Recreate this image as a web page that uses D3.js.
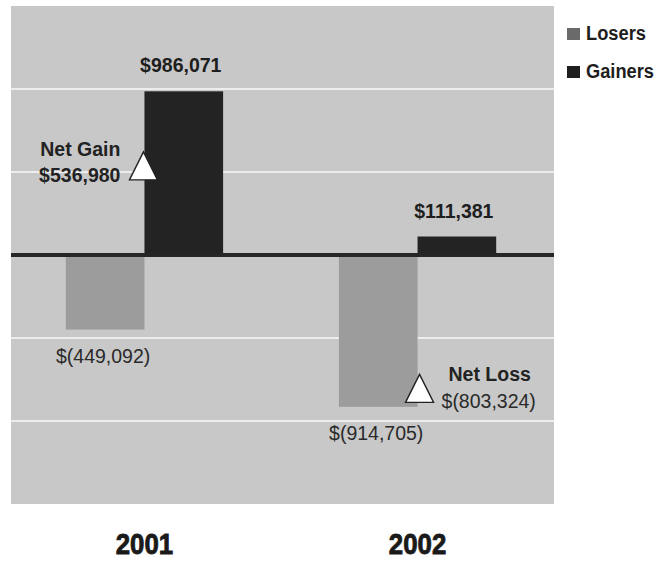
<!DOCTYPE html>
<html>
<head>
<meta charset="utf-8">
<script src="https://cdn.jsdelivr.net/npm/d3@7"></script>
<style>
  body { margin: 0; background: #fff; }
  svg text { font-family: "Liberation Sans", Arial, sans-serif; }
  .year { font-weight: bold; font-size: 30px; fill: #1a1a1a; stroke: #1a1a1a; stroke-width: 0.9; }
</style>
</head>
<body>
<svg id="chart" width="671" height="561"></svg>
<script>
// Data
const years = ['2001', '2002'];
const series = ['Losers', 'Gainers'];
const losers = [-449092, -914705];
const gainers = [986071, 111381];
const netValues = [536980, -803324];
const netNames = ['Net Gain', 'Net Loss'];
const gridTicks = [-1000000, -500000, 500000, 1000000];

const colors = {Losers: '#9c9c9c', Gainers: '#232323'};
const legendColors = {Losers: '#6a6a6a', Gainers: '#1e1e1e'};

const plot = {left: 11, right: 554, top: 6, bottom: 504};

const svg = d3.select('#chart');

// Scales
const xScale = d3.scaleBand()
    .domain(years)
    .range([9, 553])
    .paddingInner(0.424)
    .paddingOuter(0.208);

const xSub = d3.scaleBand()
    .domain(series)
    .range([0, xScale.bandwidth()]);

const yScale = d3.scaleLinear()
    .domain([-1500000, 1500000])
    .range([plot.bottom, plot.top]);

// Background
svg.append('rect')
    .attr('x', plot.left).attr('y', plot.top)
    .attr('width', plot.right - plot.left)
    .attr('height', plot.bottom - plot.top)
    .attr('fill', '#c8c8c8');

// Grid lines
svg.append('g')
    .selectAll('line')
    .data(gridTicks)
    .join('line')
    .attr('x1', plot.left).attr('x2', plot.right)
    .attr('y1', d => yScale(d)).attr('y2', d => yScale(d))
    .attr('stroke', '#ededed')
    .attr('stroke-width', 2);

// Bars
const rows = years.map((y, i) => ({year: y, Losers: losers[i], Gainers: gainers[i]}));

const groups = svg.append('g')
    .selectAll('g')
    .data(rows)
    .join('g')
    .attr('transform', d => `translate(${xScale(d.year)},0)`);

groups.selectAll('rect')
    .data(d => series.map(s => ({key: s, value: d[s]})))
    .join('rect')
    .attr('x', d => xSub(d.key))
    .attr('width', xSub.bandwidth())
    .attr('y', d => yScale(Math.max(0, d.value)))
    .attr('height', d => Math.abs(yScale(d.value) - yScale(0)))
    .attr('fill', d => colors[d.key]);

// Zero line
svg.append('line')
    .attr('x1', plot.left).attr('x2', plot.right)
    .attr('y1', yScale(0)).attr('y2', yScale(0))
    .attr('stroke', '#262626')
    .attr('stroke-width', 4);

// Value labels
const fmt = v => v < 0 ? '$(' + d3.format(',')(-v) + ')' : '$' + d3.format(',')(v);

years.forEach((y, i) => {
    const gx = xScale(y) + xSub('Gainers') + xSub.bandwidth() / 2 - 3;
    svg.append('text')
        .attr('x', gx)
        .attr('y', yScale(gainers[i]) - 19)
        .attr('text-anchor', 'middle')
        .attr('font-size', 19.5)
        .attr('font-weight', 'bold')
        .attr('fill', '#1e1e1e')
        .text(fmt(gainers[i]));

    const lx = xScale(y) + xSub('Losers') + xSub.bandwidth() / 2 - 2;
    svg.append('text')
        .attr('x', lx)
        .attr('y', yScale(losers[i]) + 33)
        .attr('text-anchor', 'middle')
        .attr('font-size', 19.5)
        .attr('fill', '#2a2a2a')
        .text(fmt(losers[i]));
});

// Net markers (triangles centred on the net value)
const triW = 28, triH = 28;
years.forEach((y, i) => {
    const cx = xScale(y) + xScale.bandwidth() / 2 + (i === 0 ? -1 : 2);
    const cy = yScale(netValues[i]);
    svg.append('path')
        .attr('d', `M${cx},${cy - triH / 2}L${cx + triW / 2},${cy + triH / 2}L${cx - triW / 2},${cy + triH / 2}Z`)
        .attr('fill', '#fff')
        .attr('stroke', '#222')
        .attr('stroke-width', 1.4);
});

// Net Gain label (left of triangle)
const ng = xScale('2001') + xScale.bandwidth() / 2;
svg.append('text')
    .attr('x', ng - 24).attr('y', yScale(netValues[0]) - 10)
    .attr('text-anchor', 'end')
    .attr('font-size', 19.5).attr('font-weight', 'bold').attr('fill', '#222')
    .text(netNames[0]);
svg.append('text')
    .attr('x', ng - 24).attr('y', yScale(netValues[0]) + 16)
    .attr('text-anchor', 'end')
    .attr('font-size', 19.5).attr('font-weight', 'bold').attr('fill', '#222')
    .text(fmt(netValues[0]));

// Net Loss label (right of triangle)
const nl = xScale('2002') + xScale.bandwidth() / 2;
svg.append('text')
    .attr('x', nl + 31).attr('y', yScale(netValues[1]) - 7)
    .attr('font-size', 19.5).attr('font-weight', 'bold').attr('fill', '#222')
    .text(netNames[1]);
svg.append('text')
    .attr('x', nl + 24).attr('y', yScale(netValues[1]) + 20)
    .attr('font-size', 19.5).attr('fill', '#2a2a2a')
    .text(fmt(netValues[1]));

// Year labels (condensed)
svg.append('g')
    .selectAll('text')
    .data(years)
    .join('text')
    .attr('class', 'year')
    .attr('transform', d => `translate(${xScale(d) + xScale.bandwidth() / 2},554) scale(0.86,1)`)
    .attr('text-anchor', 'middle')
    .text(d => d);

// Legend
const legend = svg.append('g')
    .selectAll('g')
    .data(series)
    .join('g')
    .attr('transform', (d, i) => `translate(567, ${40 + i * 38})`);

legend.append('rect')
    .attr('x', 0).attr('y', -12)
    .attr('width', 13).attr('height', 12)
    .attr('fill', d => legendColors[d]);

legend.append('text')
    .attr('x', 19).attr('y', 0)
    .attr('font-size', 19.5).attr('font-weight', 'bold').attr('fill', '#1e1e1e')
    .attr('textLength', d => d === 'Losers' ? 60 : 68)
    .attr('lengthAdjust', 'spacingAndGlyphs')
    .text(d => d);
</script>
</body>
</html>
